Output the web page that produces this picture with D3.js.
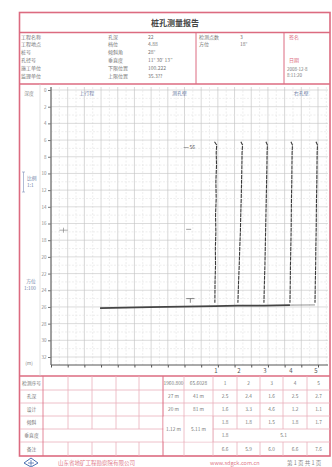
<!DOCTYPE html>
<html>
<head>
<meta charset="utf-8">
<script src="https://cdn.jsdelivr.net/npm/d3@7"></script>
<style>
  body { margin:0; background:#fff; }
  text { font-family:"Noto Sans CJK SC", sans-serif; }
</style>
</head>
<body>
<svg id="chart" width="332" height="467"></svg>
<script>
// ---- data ----
const titleText = '桩孔测量报告';
const infoCol1 = [['工程名称',''],['工程地点',''],['桩号',''],['孔径号',''],['施工单位',''],['监理单位','']];
const infoCol2 = [['孔深','22'],['档位','4.88'],['倾斜角','28°'],['垂直度','11° 30′ 13″'],['下限位置','100.222'],['上限位置','35.3??']];
const infoCol3 = [['检测点数','3'],['方位','18°']];
const depthTicks = [0,2,4,6,8,10,12,14,16,18,20,22,24,26,28,30,32];
const traceNames = ['1','2','3','4','5'];
const traceDepth = [6.2,6.6,7.5,9,11,13,15,17,19,21,23,25.5];
const trace1 = [9.80,9.93,9.90,9.92,9.88,9.90,9.86,9.88,9.85,9.86,9.83,9.82];
const trace2 = [11.38,11.48,11.45,11.44,11.42,11.40,11.37,11.35,11.31,11.28,11.24,11.20];
const trace3 = [12.88,12.97,12.95,12.94,12.92,12.90,12.88,12.86,12.84,12.82,12.79,12.76];
const trace4 = [14.38,14.47,14.45,14.44,14.43,14.41,14.40,14.39,14.37,14.35,14.34,14.32];
const trace5 = [15.88,15.97,15.95,15.94,15.93,15.91,15.90,15.89,15.87,15.86,15.84,15.82];
const baseDepth = [26.14,26.02,25.90,25.84,25.84,25.78];
const baseOffset = [2.94,5.93,9.83,11.20,12.76,14.32];
const tailDepth = [25.78,25.76];
const tailOffset = [14.32,15.82];
const tableRows = ['检测序号','孔深','设计','倾斜','垂直度','备注'];
const tableHead = ['1960.800','65.6028','1','2','3','4','5'];
const row2 = ['27 m','41 m','2.5','2.4','1.6','2.5','2.7'];
const row3 = ['20 m','81 m','1.6','3.3','4.6','1.2','1.1'];
const row4 = ['1.8','1.8','1.5','1.8','1.7'];
const row45 = ['1.12 m','5.11 m'];
const row5 = ['1.8','5.1'];
const row6 = ['6.6','5.9','6.0','6.6','7.6'];

const svg = d3.select('#chart');
const pink = '#dc6b80', pinkLight = '#eab0bb', txt = '#777';

// outer frame
svg.append('rect').attr('x',19.5).attr('y',12.5).attr('width',310.5).attr('height',443.5)
  .attr('fill','none').attr('stroke',pink).attr('stroke-width',1.6);
[32.5, 84, 376].forEach(yy => svg.append('line').attr('x1',19.5).attr('x2',330).attr('y1',yy).attr('y2',yy)
  .attr('stroke',pink).attr('stroke-width',1.4));
svg.append('text').attr('x',175).attr('y',25.5).attr('text-anchor','middle')
  .style('font-size','8px').style('font-weight','bold').style('fill','#444').text(titleText);

// header blocks
[196, 284].forEach(xx => svg.append('line').attr('x1',xx).attr('x2',xx).attr('y1',32.5).attr('y2',84)
  .attr('stroke',pink).attr('stroke-width',1));
const hdr = svg.append('g').style('font-size','5px').style('fill',txt);
const rowY = i => 38.5 + i*7.8;
infoCol1.forEach((d,i) => hdr.append('text').attr('x',21).attr('y',rowY(i)).text(d[0]));
infoCol2.forEach((d,i) => {
  hdr.append('text').attr('x',108).attr('y',rowY(i)).text(d[0]);
  hdr.append('text').attr('x',148).attr('y',rowY(i)).text(d[1]);
});
infoCol3.forEach((d,i) => {
  hdr.append('text').attr('x',199).attr('y',rowY(i)).text(d[0]);
  hdr.append('text').attr('x',240).attr('y',rowY(i)).text(d[1]);
});
hdr.append('text').attr('x',289).attr('y',rowY(0)).style('fill',pink).text('签名');
hdr.append('text').attr('x',289).attr('y',rowY(3)).style('fill',pink).text('日期');
hdr.append('text').attr('x',287).attr('y',rowY(4)+1).style('font-size','4.5px').text('2008-12-8');
hdr.append('text').attr('x',287).attr('y',rowY(5)-1).style('font-size','4.5px').text('8:11:20');

// ---- chart ----
const x = d3.scaleLinear().domain([0,16.6]).range([51,328]);
const y = d3.scaleLinear().domain([0,32]).range([90,357]);
const plotTop = 87, plotBot = 365;

svg.append('line').attr('x1',40).attr('x2',40).attr('y1',84).attr('y2',376).attr('stroke','#ccc').attr('stroke-width',0.6);

const grid = svg.append('g');
d3.range(0,17,0.5).forEach(v => {
  const major = v % 1 === 0;
  grid.append('line').attr('x1',x(v)).attr('x2',x(v)).attr('y1',plotTop).attr('y2',plotBot)
    .attr('stroke', major ? '#bdbdbd' : '#e0e0e0').attr('stroke-width',0.6)
    .attr('stroke-dasharray', major ? null : '2,1.5');
});
d3.range(0,33,1).forEach(v => {
  const major = v % 2 === 0;
  grid.append('line').attr('x1',x(0)).attr('x2',328).attr('y1',y(v)).attr('y2',y(v))
    .attr('stroke', major ? '#c4c4c4' : '#e2e2e2').attr('stroke-width',0.6)
    .attr('stroke-dasharray', major ? null : '2,1.5');
});

// axes
const yAxis = d3.axisLeft(y).tickValues(depthTicks).tickSize(3).tickPadding(1.5);
const yAxisG = svg.append('g').attr('transform','translate('+x(0)+',0)').call(yAxis);
yAxisG.select('.domain').attr('stroke','#555').attr('d','M0,'+plotTop+'V'+plotBot);
yAxisG.selectAll('line').attr('stroke','#777');
yAxisG.selectAll('text').style('font-size','4.5px').style('fill','#888');

const xAxis = d3.axisBottom(x).tickValues(d3.range(0,17,1)).tickSize(2.5).tickFormat('');
const xAxisG = svg.append('g').attr('transform','translate(0,'+plotBot+')').call(xAxis);
xAxisG.select('.domain').attr('stroke','#555').attr('d','M'+x(0)+',0H328');
xAxisG.selectAll('line').attr('stroke','#555');

// labels in left column
const lab = svg.append('g').style('font-size','4.8px').style('fill','#888');
lab.append('text').attr('x',29).attr('y',95).attr('text-anchor','middle').text('深度');
lab.append('text').attr('x',29).attr('y',365).attr('text-anchor','middle').text('(m)');
svg.append('path').attr('d','M23.5,172V192M22,172H25M22,192H25').attr('stroke','#7c8fb8').attr('fill','none').attr('stroke-width',0.6);
lab.append('text').attr('x',27).attr('y',180).style('fill','#6f7fa8').text('比例');
lab.append('text').attr('x',27).attr('y',187).style('fill','#6f7fa8').text('1:1');
lab.append('text').attr('x',31).attr('y',283).attr('text-anchor','middle').style('fill','#6f7fa8').text('方位');
lab.append('text').attr('x',30).attr('y',290).attr('text-anchor','middle').style('fill','#6f7fa8').text('1:100');

const topLab = svg.append('g').style('font-size','5px').style('fill','#6f7fa8');
topLab.append('text').attr('x',x(1.7)).attr('y',95).text('上行程');
topLab.append('text').attr('x',x(7.7)).attr('y',95).attr('text-anchor','middle').text('测孔壁');
topLab.append('text').attr('x',x(15)).attr('y',95).attr('text-anchor','middle').text('右孔壁');

// annotations
svg.append('line').attr('x1',x(7.95)).attr('x2',x(8.25)).attr('y1',y(6.9)).attr('y2',y(6.9)).attr('stroke','#666').attr('stroke-width',0.6);
svg.append('text').attr('x',x(8.3)).attr('y',y(7.1)).style('font-size','5px').style('fill','#555').text('56');
svg.append('line').attr('x1',x(8.1)).attr('x2',x(8.4)).attr('y1',y(16.7)).attr('y2',y(16.7)).attr('stroke','#777').attr('stroke-width',0.7);
svg.append('path').attr('d','M'+x(8.1)+','+y(25.0)+'H'+x(8.6)+'M'+x(8.35)+','+y(25.0)+'V'+y(25.5))
  .attr('stroke','#555').attr('stroke-width',0.7).attr('fill','none');
svg.append('path').attr('d','M'+x(0.5)+','+y(16.8)+'H'+x(1.0)+'M'+x(0.75)+','+y(16.5)+'V'+y(17.1))
  .attr('stroke','#777').attr('stroke-width',0.6).attr('fill','none');

// traces
const line = d3.line().x(d => x(d[1])).y(d => y(d[0]));
const traces = [trace1,trace2,trace3,trace4,trace5];
traces.forEach(t => {
  svg.append('path').datum(traceDepth.map((dd,i) => [dd,t[i]]))
    .attr('d',line).attr('fill','none').attr('stroke','#3a3a3a').attr('stroke-width',1.1)
    .attr('stroke-dasharray','4,0.8');
});
svg.append('path').datum(baseDepth.map((dd,i) => [dd,baseOffset[i]]))
  .attr('d',line).attr('fill','none').attr('stroke','#444').attr('stroke-width',1.6);
svg.append('path').datum(tailDepth.map((dd,i) => [dd,tailOffset[i]]))
  .attr('d',line).attr('fill','none').attr('stroke','#666').attr('stroke-width',0.7);

svg.append('g').selectAll('text').data(traceNames).enter().append('text')
  .attr('x',(d,i) => x(traces[i][traces[i].length-1]) + 1)
  .attr('y',372.5).attr('text-anchor','middle')
  .style('font-size','6px').style('fill','#555').text(d => d);

// ---- bottom table ----
const rowLines = [376,390,403,416,429,442,456];
const colLines = [20,43,68,92,116,139,163,184,213,237,260,283,307,330];
const tg = svg.append('g');
rowLines.slice(1,-1).forEach(yy => tg.append('line').attr('x1',20).attr('x2',330).attr('y1',yy).attr('y2',yy)
  .attr('stroke',pinkLight).attr('stroke-width',0.8));
colLines.slice(1,-1).forEach((xx,ci) => {
  const c = ci + 1;
  let segs = [[376,456]];
  if (c >= 2 && c <= 5) segs = [[376,429],[442,456]];
  if (c >= 9) segs = [[376,429],[442,456]];
  segs.forEach(s => tg.append('line').attr('x1',xx).attr('x2',xx).attr('y1',s[0]).attr('y2',s[1])
    .attr('stroke', c === 1 || c === 6 ? pink : pinkLight).attr('stroke-width',c === 6 ? 1 : 0.8));
});
// merged cells for rows 4-5 in first two data columns
tg.append('rect').attr('x',163.5).attr('y',416.5).attr('width',49).attr('height',25).attr('fill','#fff');
tg.append('line').attr('x1',184).attr('x2',184).attr('y1',416).attr('y2',442).attr('stroke',pinkLight).attr('stroke-width',0.8);
tg.append('line').attr('x1',213).attr('x2',213).attr('y1',416).attr('y2',442).attr('stroke',pinkLight).attr('stroke-width',0.8);

const cellX = i => (colLines[i] + colLines[i+1]) / 2;
const rowMid = r => (rowLines[r] + rowLines[r+1]) / 2 + 1.8;
const tt = svg.append('g').style('font-size','4.8px').style('fill',txt).attr('text-anchor','middle');
tableRows.forEach((d,r) => tt.append('text').attr('x',cellX(0)).attr('y',rowMid(r)).text(d));
tableHead.forEach((d,i) => tt.append('text').attr('x',cellX(i+6)).attr('y',rowMid(0)).text(d));
row2.forEach((d,i) => tt.append('text').attr('x',cellX(i+6)).attr('y',rowMid(1)).text(d));
row3.forEach((d,i) => tt.append('text').attr('x',cellX(i+6)).attr('y',rowMid(2)).text(d));
row4.forEach((d,i) => tt.append('text').attr('x',cellX(i+8)).attr('y',rowMid(3)).text(d));
row45.forEach((d,i) => tt.append('text').attr('x',cellX(i+6)).attr('y',(rowMid(3)+rowMid(4))/2).text(d));
tt.append('text').attr('x',cellX(8)).attr('y',rowMid(4)).text(row5[0]);
tt.append('text').attr('x',(colLines[9]+colLines[13])/2).attr('y',rowMid(4)).text(row5[1]);
row6.forEach((d,i) => tt.append('text').attr('x',cellX(i+8)).attr('y',rowMid(5)).text(d));

// ---- footer ----
svg.append('path').attr('d','M24,463L31,458L38,463L31,467Z').attr('fill','none').attr('stroke','#4a6fb0').attr('stroke-width',1);
svg.append('path').attr('d','M28,463H34M31,460V466').attr('stroke','#4a6fb0').attr('stroke-width',0.8);
svg.append('text').attr('x',58).attr('y',465).style('font-size','5.5px').style('fill','#e07a8a').text('山东省地矿工程勘察院有限公司');
svg.append('text').attr('x',210).attr('y',465).style('font-size','5.5px').style('fill','#e07a8a').text('www.sdgck.com.cn');
svg.append('text').attr('x',287).attr('y',465).style('font-size','5.5px').style('fill','#888').text('第 1 页 共 1 页');
</script>
</body>
</html>
